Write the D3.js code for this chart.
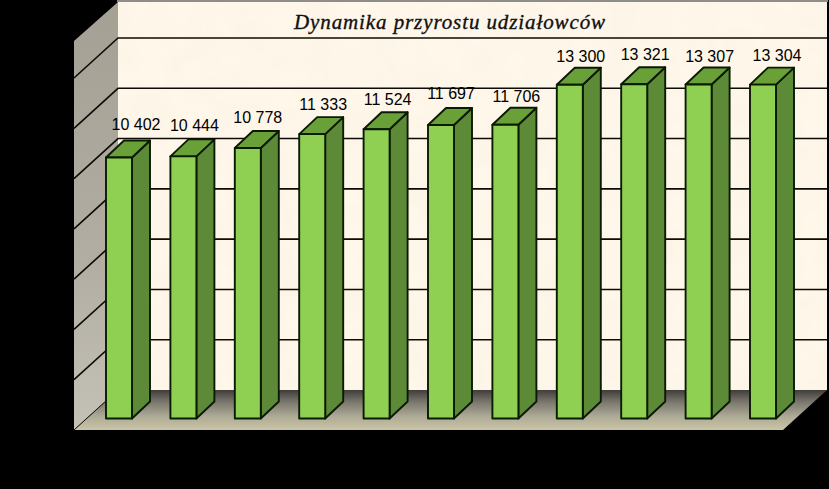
<!DOCTYPE html>
<html><head><meta charset="utf-8">
<script src="https://cdn.jsdelivr.net/npm/d3@7"></script>
<style>html,body{margin:0;padding:0;background:#000}svg{display:block}</style>
</head><body><div id="c"></div>
<script>
const title = "Dynamika przyrostu udziałowców";
const categories = ["1","2","3","4","5","6","7","8","9","10","11"];
const values = [10402,10444,10778,11333,11524,11697,11706,13300,13321,13307,13304];
const labels = ["10 402","10 444","10 778","11 333","11 524","11 697","11 706","13 300","13 321","13 307","13 304"];
const gridTicks = [0,2000,4000,6000,8000,10000,12000,14000];
const labelShiftX = [17,11,10,11,11,10,11,11,11,11,14];
const labelShiftY = [-2,0,0,1,1,-1,2,2,1,2,1];

const W = 829, H = 489;
const svg = d3.select("#c").append("svg").attr("width",W).attr("height",H);
const defs = svg.append("defs");

const frontY = d3.scaleLinear().domain([0,15500]).range([418.5,29.5]);
const bandStart = 106, step = 64.4, barW = 26;
const x = d3.scaleBand().domain(categories)
  .range([bandStart-(step-barW)/2, bandStart-(step-barW)/2+step*categories.length])
  .paddingInner((step-barW)/step).paddingOuter((step-barW)/step/2);
const backY = d3.scaleLinear().domain([0,14000]).range([390,38]);
const sideY = d3.scaleLinear().domain([0,14000]).range([430,78]);

const wall = {l:118,r:827,t:2,b:390}, front = {l:74,r:783,b:430,t:41};
const dx = 18, dy = 17;

const g1 = defs.append("linearGradient").attr("id","floor").attr("x1",0).attr("x2",0).attr("y1",0).attr("y2",1);
[[0,"#3f3d3a"],[0.3,"#7a776e"],[0.65,"#aca995"],[1,"#cbc6a6"]].forEach(d=>g1.append("stop").attr("offset",d[0]).attr("stop-color",d[1]));
const g2 = defs.append("linearGradient").attr("id","side").attr("x1",0).attr("x2",0).attr("y1",0).attr("y2",1);
[[0,"#a5a094"],[0.6,"#b1ada2"],[1,"#c4c1b6"]].forEach(d=>g2.append("stop").attr("offset",d[0]).attr("stop-color",d[1]));
const f = defs.append("filter").attr("id","paper").attr("x",0).attr("y",0).attr("width",1).attr("height",1);
f.append("feTurbulence").attr("type","fractalNoise").attr("baseFrequency",0.03).attr("numOctaves",3).attr("seed",4);
f.append("feColorMatrix").attr("values","0 0 0 0 0.93  0 0 0 0 0.87  0 0 0 0 0.72  0.4 0 0 0 -0.12");
f.append("feComposite").attr("in2","SourceGraphic").attr("operator","over");

const line = d3.line();
// walls
svg.append("rect").attr("x",wall.l-1).attr("y",0).attr("width",wall.r-wall.l+2).attr("height",2).attr("fill","#8f8d88");
svg.append("rect").attr("x",wall.l).attr("y",wall.t).attr("width",wall.r-wall.l).attr("height",wall.b-wall.t).attr("fill","#fef7ea").attr("filter","url(#paper)");
svg.append("path").attr("d",line([[front.l,front.t],[wall.l,wall.t],[wall.l,wall.b],[front.l,front.b]])+"Z").attr("fill","url(#side)");
svg.append("path").attr("d",line([[wall.l,wall.b],[wall.r,wall.b],[front.r,front.b],[front.l,front.b]])+"Z").attr("fill","url(#floor)");

// gridlines
const grid = svg.append("g").attr("stroke","#0c0b05").attr("stroke-width",1.6).attr("fill","none");
grid.selectAll("path.w").data(gridTicks.slice(1)).join("path").attr("class","w")
  .attr("d",t=>line([[front.l,sideY(t)],[wall.l,backY(t)],[wall.r,backY(t)]]));
grid.append("path").attr("stroke-width",1).attr("d",line([[front.l,sideY(0)],[wall.l,backY(0)]]));

// title
svg.append("text").attr("x",450).attr("y",29).attr("text-anchor","middle")
  .attr("font-family","'Liberation Serif',serif").attr("font-style","italic").attr("font-size",21)
  .attr("letter-spacing",0.9).attr("fill","#111").attr("stroke","#111").attr("stroke-width",0.35).text(title);

// bars
const bars = svg.append("g").selectAll("g").data(values).join("g");
const stroke = "#0b1a05";
bars.each(function(v,i){
  const s = d3.select(this), x0 = x(categories[i]), x1 = x0 + x.bandwidth(), y0 = frontY(v), yb = frontY(0);
  s.append("path").attr("d",line([[x1,y0],[x1+dx,y0-dy],[x1+dx,yb-dy],[x1,yb]])+"Z").attr("fill","#5d8a36");
  s.append("path").attr("d",line([[x0,y0],[x0+dx,y0-dy],[x1+dx,y0-dy],[x1,y0]])+"Z").attr("fill","#6aa038");
  s.append("rect").attr("x",x0).attr("y",y0).attr("width",x.bandwidth()).attr("height",yb-y0).attr("fill","#8fd052");
  s.selectAll("path,rect").attr("stroke",stroke).attr("stroke-width",1.9).attr("stroke-linejoin","round");
});

// value labels
svg.append("g").selectAll("text").data(labels).join("text")
  .attr("x",(d,i)=>x(categories[i])+x.bandwidth()/2+labelShiftX[i])
  .attr("y",(d,i)=>frontY(values[i])-25+labelShiftY[i])
  .attr("text-anchor","middle").attr("font-family","'Liberation Sans',Arial,sans-serif")
  .attr("font-size",16).attr("fill","#000").text(d=>d);
</script></body></html>
